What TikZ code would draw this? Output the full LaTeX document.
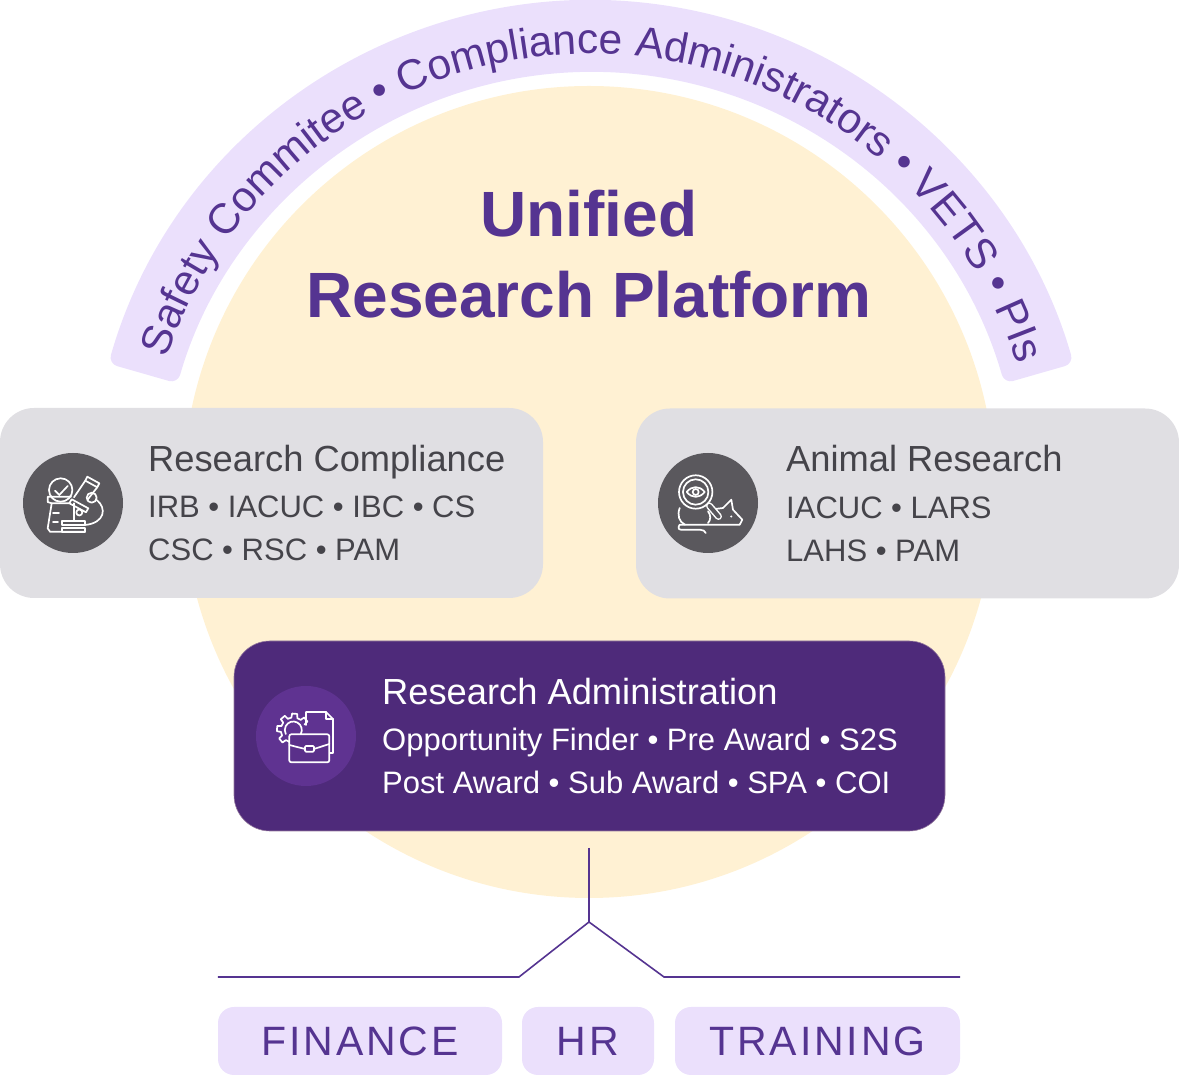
\documentclass[tikz,border=0pt]{standalone}
\usepackage{fontspec}
\setmainfont{Liberation Sans}
\newfontfamily\deptfont[LetterSpace=7]{Liberation Sans}
\usetikzlibrary{positioning, calc, decorations.text}

\definecolor{sunfill}{HTML}{FFF1D3}
\definecolor{bandfill}{HTML}{EBE0FC}
\definecolor{inkpurple}{HTML}{553491}
\definecolor{cardgrey}{HTML}{E0DFE3}
\definecolor{inkgrey}{HTML}{45444A}
\definecolor{discgrey}{HTML}{5A585D}
\definecolor{adminpurple}{HTML}{4E2A7A}
\definecolor{discpurple}{HTML}{5F3391}
\newcommand{\bandfont}{\fontsize{42.5}{48}\selectfont}

\begin{document}
\begin{tikzpicture}[
    x=1pt, y=1pt,
    cardbox/.style={
        fill=cardgrey, rounded corners=34pt, minimum width=543pt,
        minimum height=190pt, inner sep=0pt
    },
    adminbox/.style={
        fill=adminpurple, draw=adminpurple!60!sunfill, line width=0.6pt,
        rounded corners=36pt, minimum width=711pt, minimum height=190pt,
        inner sep=0pt
    },
    disc/.style={circle, minimum size=100pt, inner sep=0pt, fill=#1},
    cardhead/.style={
        anchor=base west, inner sep=0pt, text=#1,
        font=\fontsize{36.3}{42}\selectfont
    },
    cardlist/.style={
        anchor=base west, inner sep=0pt, text=#1,
        font=\fontsize{31}{38}\selectfont
    },
    titleline/.style={
        anchor=base, inner sep=0pt, text=inkpurple,
        font=\bfseries\fontsize{64}{70}\selectfont
    },
    deptbox/.style={
        fill=bandfill, rounded corners=16pt, minimum height=68pt,
        inner sep=0pt, text=inkpurple, font=\deptfont\fontsize{41}{46}\selectfont
    },
    branch/.style={draw=inkpurple, line width=1.6pt, line join=miter},
    iconline/.style={draw=white, line width=1.7pt, line cap=round, line join=round}
]
\useasboundingbox (0,0) rectangle (1179,1076);

% --- Backdrop ---
\fill[sunfill] (589,584) circle (406);
\coordinate (bandhub) at (591,574);
\fill[bandfill, rounded corners=9pt]
    ($(bandhub)+(164:502)$) arc (164:16:502)
    -- ($(bandhub)+(16:430)$) arc (16:164:430) -- cycle;
\path[decorate, decoration={text along path, text align=center,
        text={|\bandfont\color{inkpurple}|Safety Commitee • Compliance Administrators • VETS • PIs}}]
    ($(bandhub)+(164.6:448)$) arc (164.6:14.6:448);

% --- Title ---
\node[titleline] (title1) at (589,839) {Unified};
\node[titleline] (title2) at (589,758) {Research Platform};

% --- Research Compliance ---
\node[cardbox] (rc) at (271.5,573) {};
\node[disc=discgrey] (rcdisc) at (73,573) {};
\node[cardhead=inkgrey] (rchead) at (148,604) {Research Compliance};
\node[cardlist=inkgrey] (rcl1) at (148,558) {IRB • IACUC • IBC • CS};
\node[cardlist=inkgrey] (rcl2) at (148,515) {CSC • RSC • PAM};

% microscope icon
\begin{scope}[shift={(rcdisc.center)}, iconline]
    \draw (-12.3,13) circle (11.7);
    \draw (-18,12.3) -- (-13.7,8) -- (-5.3,17);
    \draw (-25.3,6.3) -- (-2,6.3) (-25.3,6.3) -- (-25.3,1) -- (-21.3,-0.3) -- (-4,-0.3);
    \draw (-21.3,-0.3) -- (-25.3,-25.3) -- (-23,-28.7) -- (12,-28.7);
    \draw (-20,-10) -- (-14,-10) (-20,-19) -- (-15,-19);
    \draw (14.3,26.3) -- (26.3,19.7) -- (24.3,15.7) -- (12.3,22.3) -- cycle;
    \draw (12.3,22.3) -- (1,5.7) (24.3,15.7) -- (14.3,3);
    \draw (-1.3,3.7) -- (15.3,-5.3) -- (13,-9.3) -- (-3.7,-0.3) -- cycle;
    \draw (6.3,-9.5) circle (3);
    \draw (1,-0.3) -- (1,-17.7);
    \draw (18.7,5.3) circle (5);
    \draw (23.7,3) .. controls (34,-5) and (32,-20) .. (12,-22);
    \draw (-11.3,-17.7) rectangle (12,-22);
    \draw (-11.3,-25.3) rectangle (12,-28.7);
\end{scope}

% --- Animal Research ---
\node[cardbox] (ar) at (907.5,572.5) {};
\node[disc=discgrey] (ardisc) at (708,573) {};
\node[cardhead=inkgrey] (arhead) at (786,604) {Animal Research};
\node[cardlist=inkgrey] (arl1) at (786,557) {IACUC • LARS};
\node[cardlist=inkgrey] (arl2) at (786,514) {LAHS • PAM};

% magnifier and mouse icon
\begin{scope}[shift={(ardisc.center)}, iconline]
    \draw (-28.3,-5) .. controls (-31,-12) and (-29,-19) .. (-23,-21.7);
    \draw (0,-8.3) .. controls (3,-12) and (3,-17) .. (0,-20);
    \draw (1.7,-6.7) -- (15,-5) -- (23.3,3.3) -- (25,-6.7) -- (34.3,-16.7)
        -- (31.7,-21.7) -- (-28.3,-21.7);
    \fill[white] (23.3,-13.5) circle (1.1);
    \draw (-28.3,-21.7) .. controls (-30,-24) and (-30,-26.7) .. (-27,-26.7)
        -- (-8.3,-26.7) .. controls (-5,-26.7) and (-3,-28) .. (-2.3,-30);
    \draw[fill=discgrey] (-12.3,11) circle (16.7);
    \draw (-12.3,11) circle (12.7);
    \draw (-21.3,11) .. controls (-16,17.5) and (-8.6,17.5) .. (-3.3,11)
        .. controls (-8.6,4.5) and (-16,4.5) .. cycle;
    \draw (-12.3,11) circle (3);
    \draw[line width=7pt] (1.5,-3) -- (10.5,-13.5);
    \draw[draw=discgrey, line width=4pt] (1.5,-3) -- (10.5,-13.5);
\end{scope}

% --- Research Administration ---
\node[adminbox] (ra) at (589.5,340) {};
\node[disc=discpurple] (radisc) at (306,340) {};
\node[cardhead=white] (rahead) at (382,371) {Research Administration};
\node[cardlist=white] (ral1) at (382,325) {Opportunity Finder • Pre Award • S2S};
\node[cardlist=white] (ral2) at (382,282) {Post Award • Sub Award • SPA • COI};

% briefcase icon
\begin{scope}[shift={(radisc.center)}, iconline]
    \draw (0,11) -- (0,24) -- (20,24) -- (27,17) -- (27,2);
    \draw (20,24) -- (20,17) -- (27,17);
    \draw (27,2) -- (27,-17) -- (23.3,-17);
    \begin{scope}[shift={(-12.7,6)}]
        \draw (-28:8.5) arc (-28:208:8.5);
        \foreach \ang in {40,85,130,175,220} {
            \draw (\ang-14:12.5) -- (\ang-9:16.5) -- (\ang+9:16.5) -- (\ang+14:12.5)
                arc (\ang+14:\ang+31:12.5);
        }
    \end{scope}
    \draw[rounded corners=2pt, fill=adminpurple!30!discpurple] (-16.7,1.7) rectangle (23.3,-26.3);
    \draw (-16.7,-9) -- (-1,-13) (8,-13) -- (23.3,-8);
    \draw[rounded corners=1pt] (-1,-10) rectangle (8,-15.7);
\end{scope}

% --- Departments ---
\node[deptbox, minimum width=284pt] (finance) at (360,35) {FINANCE};
\node[deptbox, minimum width=132pt] (hr) at (588,35) {HR};
\node[deptbox, minimum width=285pt] (training) at (817.5,35) {TRAINING};

% --- Branch lines ---
\coordinate (trunktop) at (589,228);
\coordinate (fork) at (589,154);
\coordinate (kneeL) at (519,99);
\coordinate (kneeR) at (664,99);
\coordinate (endL) at (finance.west |- kneeL);
\coordinate (endR) at (training.east |- kneeR);
\draw[branch] (trunktop) -- (fork);
\draw[branch] (endL) -- (kneeL) -- (fork) -- (kneeR) -- (endR);
\end{tikzpicture}
\end{document}
